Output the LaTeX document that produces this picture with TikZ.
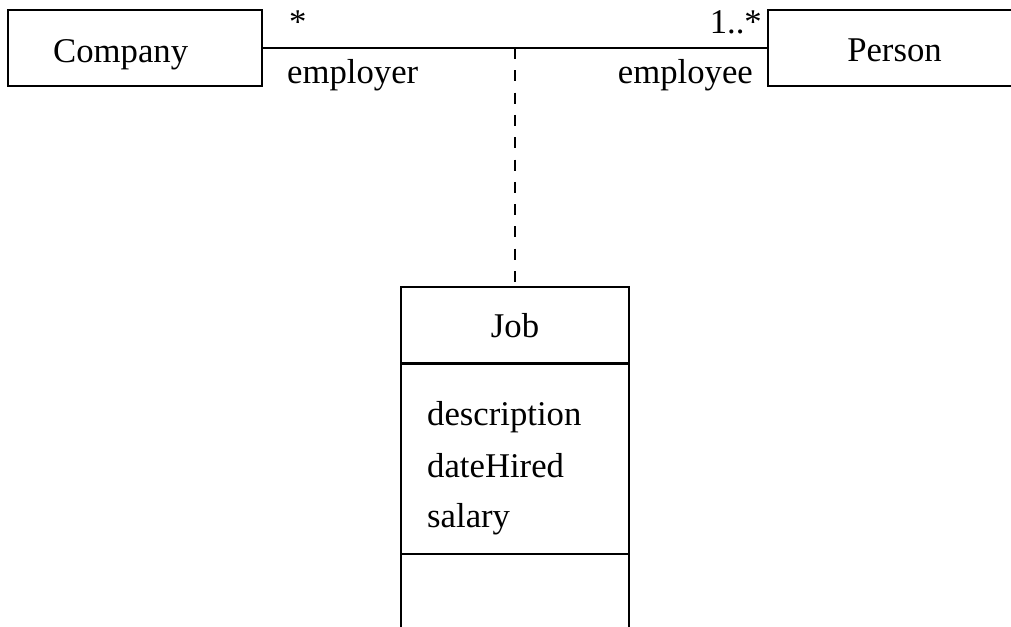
\documentclass[tikz,border=0pt]{standalone}
\usepackage{fontspec}
\setmainfont{Liberation Serif}
\begin{document}
\begin{tikzpicture}[x=1pt,y=-1pt,
  every node/.style={font=\fontsize{34.7}{52}\selectfont, inner sep=0pt},
  classbox/.style={draw, line width=1.2pt, minimum height=76pt},
  conn/.style={line width=1.2pt},
  assoc/.style={line width=1.2pt, dash pattern=on 11pt off 11.3pt},
  lbl/.style={anchor=base west}
]
\clip (0,0) rectangle (1011,626);
% classes
\node[classbox, minimum width=254pt] (company) at (135,48) {};
\node[lbl] (companyname) at (53,63) {Company};
\node[classbox, minimum width=253pt] (person) at (894.5,48) {};
\node[anchor=base] (personname) at (894.5,62) {Person};
% association class Job
\node[classbox, minimum width=228pt] (jobhead) at (515,325) {};
\node[anchor=base] (jobname) at (515,337) {Job};
\node[draw, line width=1.2pt, minimum width=228pt, minimum height=189pt, anchor=north] (jobattr) at (jobhead.south) {};
\node[draw, line width=1.2pt, minimum width=228pt, minimum height=100pt, anchor=north] (jobops) at (jobattr.south) {};
\node[lbl] (attr1) at (427,425) {description};
\node[lbl] (attr2) at (427,477) {dateHired};
\node[lbl] (attr3) at (427,527) {salary};
% association
\draw[conn] (company.east) -- (person.west);
\coordinate (mid) at (515,48);
\draw[assoc] (mid) -- (jobhead.north);
% ends
\node[lbl] (m1) at (289,34) {*};
\node[anchor=base east] (m2) at (762,34) {1..*};
\node[lbl] (r1) at (287,83) {employer};
\node[anchor=base east] (r2) at (753,83) {employee};
\end{tikzpicture}
\end{document}
